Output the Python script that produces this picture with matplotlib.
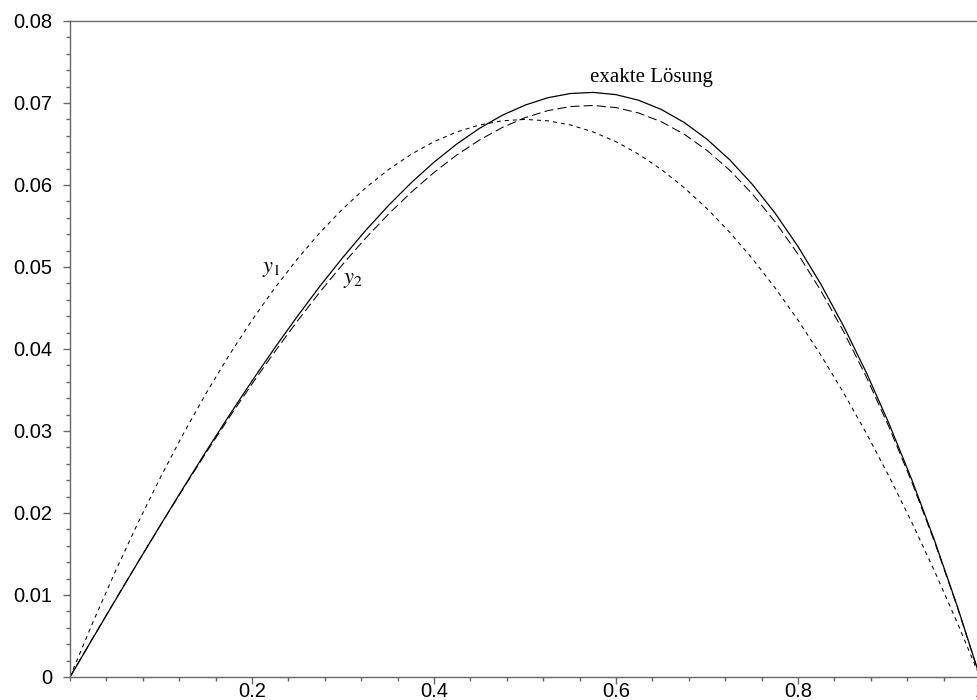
import matplotlib
matplotlib.use("Agg")
import matplotlib.pyplot as plt
from matplotlib.ticker import MultipleLocator, FuncFormatter, FixedLocator

# Stuetzstellen (Schrittweite 0.025) und Werte der drei Kurven
x_values = [0.000, 0.025, 0.050, 0.075, 0.100, 0.125, 0.150, 0.175, 0.200,
            0.225, 0.250, 0.275, 0.300, 0.325, 0.350, 0.375, 0.400, 0.425,
            0.450, 0.475, 0.500, 0.525, 0.550, 0.575, 0.600, 0.625, 0.650,
            0.675, 0.700, 0.725, 0.750, 0.775, 0.800, 0.825, 0.850, 0.875,
            0.900, 0.925, 0.950, 0.975, 1.000]

y_exact = [0.0, 0.00471, 0.00940, 0.01405, 0.01864, 0.02316, 0.02759, 0.03191,
           0.03610, 0.04014, 0.04401, 0.04771, 0.05119, 0.05447, 0.05750,
           0.06028, 0.06278, 0.06500, 0.06691, 0.06850, 0.06974, 0.07064,
           0.07116, 0.07129, 0.07102, 0.07033, 0.06920, 0.06762, 0.06558,
           0.06307, 0.06005, 0.05654, 0.05250, 0.04793, 0.04281, 0.03715,
           0.03090, 0.02408, 0.01666, 0.00864, 0.0]

y_1 = [0.0, 0.00663, 0.01292, 0.01887, 0.02448, 0.02975, 0.03468, 0.03927,
       0.04352, 0.04743, 0.05100, 0.05423, 0.05712, 0.05967, 0.06188,
       0.06375, 0.06528, 0.06647, 0.06732, 0.06783, 0.06800, 0.06783,
       0.06732, 0.06647, 0.06528, 0.06375, 0.06188, 0.05967, 0.05712,
       0.05423, 0.05100, 0.04743, 0.04352, 0.03927, 0.03468, 0.02975,
       0.02448, 0.01887, 0.01292, 0.00663, 0.0]

y_2 = [0.0, 0.00474, 0.00944, 0.01407, 0.01862, 0.02308, 0.02743, 0.03166,
       0.03574, 0.03967, 0.04343, 0.04700, 0.05037, 0.05353, 0.05645,
       0.05912, 0.06153, 0.06366, 0.06549, 0.06701, 0.06821, 0.06907,
       0.06957, 0.06970, 0.06944, 0.06878, 0.06770, 0.06619, 0.06422,
       0.06180, 0.05889, 0.05549, 0.05157, 0.04713, 0.04215, 0.03661,
       0.03049, 0.02379, 0.01649, 0.00856, 0.0]

y_ticks = [0.0, 0.01, 0.02, 0.03, 0.04, 0.05, 0.06, 0.07, 0.08]
x_ticks = [0.2, 0.4, 0.6, 0.8, 1.0]

plt.rcParams["font.family"] = ["Liberation Sans", "DejaVu Sans"]
plt.rcParams["mathtext.fontset"] = "stix"
plt.rcParams["lines.scale_dashes"] = False

fig = plt.figure(figsize=(9.77, 7.0), dpi=100)
# Achsen reichen rechts knapp ueber den Bildrand hinaus
ax = fig.add_axes([70 / 977, 23 / 700, 910 / 977, 656 / 700])

ax.plot(x_values, y_exact, color="black", linewidth=0.9)
ax.plot(x_values, y_1, color="black", linewidth=0.75, dashes=(2.9, 2.9))
ax.plot(x_values, y_2, color="black", linewidth=0.75, dashes=(6.5, 3.0))

# Beschriftungen der Kurven
serif = ["Liberation Serif", "DejaVu Serif"]
ax.text(0.6385, 0.0726, "exakte Lösung", family=serif, fontsize=15,
        ha="center", va="baseline")
ax.text(0.2106, 0.0494, r"$y_1$", fontsize=16, ha="left", va="baseline")
ax.text(0.2995, 0.0480, r"$y_2$", fontsize=16, ha="left", va="baseline")

ax.set_xlim(0, 1)
ax.set_ylim(0, 0.08)

ax.xaxis.set_major_locator(FixedLocator(x_ticks))
ax.xaxis.set_minor_locator(MultipleLocator(0.04))
ax.yaxis.set_major_locator(FixedLocator(y_ticks))
ax.yaxis.set_minor_locator(MultipleLocator(0.002))
ax.xaxis.set_major_formatter(FuncFormatter(lambda v, pos: "%g" % v))
ax.yaxis.set_major_formatter(FuncFormatter(lambda v, pos: "%g" % round(v, 3)))

axis_color = "#666666"
for side in ["left", "bottom", "top", "right"]:
    ax.spines[side].set_color(axis_color)
    ax.spines[side].set_linewidth(1.0)

ax.tick_params(axis="both", which="major", direction="out", length=5,
               width=1.0, color=axis_color, labelsize=14.5, labelcolor="black")
ax.tick_params(axis="both", which="minor", direction="out", length=2.8,
               width=1.0, color=axis_color)
ax.tick_params(axis="y", which="major", pad=8)
ax.tick_params(axis="x", which="major", pad=-1.5)
ax.tick_params(top=False, right=False, which="both")

fig.savefig("out.png", dpi=100)
